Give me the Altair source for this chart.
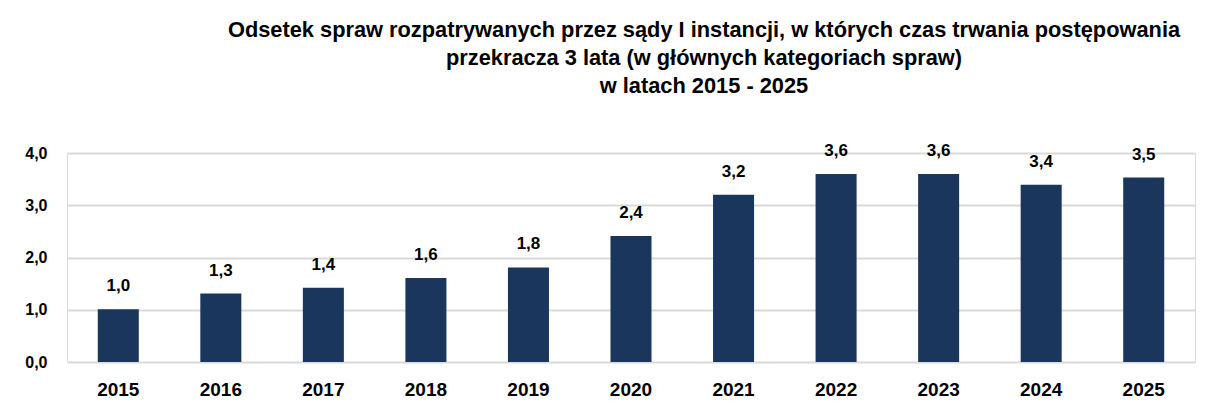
import altair as alt
import pandas as pd

years = ["2015", "2016", "2017", "2018", "2019", "2020", "2021", "2022", "2023", "2024", "2025"]
values = [1.01, 1.31, 1.42, 1.61, 1.81, 2.41, 3.20, 3.60, 3.60, 3.39, 3.53]
title_lines = [
    "Odsetek spraw rozpatrywanych przez sądy I instancji, w których czas trwania postępowania",
    "przekracza 3 lata (w głównych kategoriach spraw)",
    "w latach 2015 - 2025",
]

df = pd.DataFrame({"rok": years, "wartosc": values})
FONT = "Liberation Sans"

base = alt.Chart(df).encode(
    x=alt.X("rok:N", sort=years, title=None,
            scale=alt.Scale(paddingInner=0.6, paddingOuter=0.3),
            axis=alt.Axis(labelAngle=0, labelFontSize=19, labelFontWeight="bold",
                          labelColor="#000000", labelFont=FONT, labelPadding=18,
                          ticks=False, domain=False)),
    y=alt.Y("wartosc:Q", title=None,
            scale=alt.Scale(domain=[0, 4], nice=False),
            axis=alt.Axis(values=[0, 1, 2, 3, 4],
                          labelExpr="replace(format(datum.value, '.1f'), '.', ',')",
                          labelFontSize=16, labelFontWeight="bold", labelColor="#000000",
                          labelFont=FONT, labelPadding=20, ticks=False, domain=False,
                          gridColor="#D9D9D9", gridWidth=2)),
)

bars = base.mark_bar(color="#1A365D")
labels = base.transform_calculate(
    lab="replace(format(datum.wartosc, '.1f'), '.', ',')"
).mark_text(dy=-14, baseline="bottom", fontSize=17, fontWeight="bold",
            font=FONT, color="#000000").encode(text="lab:N")

chart = (bars + labels).properties(
    width=1128, height=209,
    title=alt.TitleParams(title_lines, fontSize=21.8, fontWeight="bold", font=FONT,
                          color="#000000", anchor="middle", dx=73, offset=44,
                          lineHeight=28),
    autosize=alt.AutoSizeParams(type="none"),
    padding={"left": 59, "top": 145, "right": 8, "bottom": 42},
).configure_view(stroke=None).configure(background="white")

chart.save("out.html", embed_options={"renderer": "svg", "actions": False})
